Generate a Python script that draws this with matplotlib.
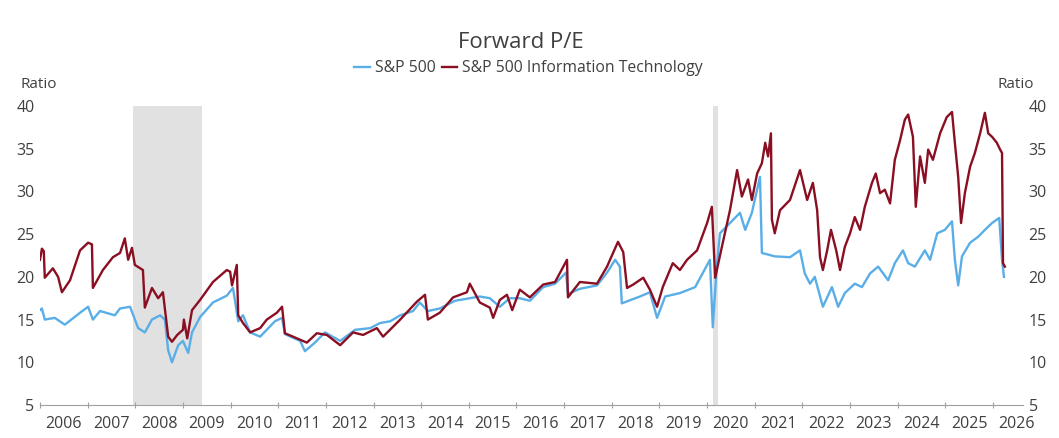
import matplotlib.pyplot as plt
from matplotlib.ticker import FixedLocator, NullFormatter, FixedFormatter

plt.rcParams['font.family'] = ['Open Sans', 'DejaVu Sans']

# S&P 500 forward P/E (decimal year, ratio)
spx_t = [2006.00, 2006.04, 2006.10, 2006.31, 2006.52, 2006.84, 2007.01, 2007.11, 2007.26,
         2007.57, 2007.68, 2007.89, 2008.06, 2008.20, 2008.35, 2008.52, 2008.62, 2008.69,
         2008.77, 2008.90, 2009.00, 2009.11, 2009.19, 2009.36, 2009.63, 2009.92, 2010.05,
         2010.16, 2010.26, 2010.41, 2010.62, 2010.93, 2011.08, 2011.14, 2011.46, 2011.56,
         2011.77, 2011.98, 2012.30, 2012.61, 2012.93, 2013.14, 2013.35, 2013.56, 2013.83,
         2013.97, 2014.14, 2014.39, 2014.71, 2015.02, 2015.23, 2015.44, 2015.65, 2015.86,
         2016.07, 2016.28, 2016.56, 2016.81, 2017.04, 2017.08, 2017.33, 2017.69, 2017.90,
         2018.07, 2018.17, 2018.21, 2018.59, 2018.80, 2018.95, 2019.12, 2019.43, 2019.75,
         2020.06, 2020.12, 2020.20, 2020.27, 2020.48, 2020.69, 2020.80, 2020.94, 2021.11,
         2021.15, 2021.42, 2021.74, 2021.95, 2022.05, 2022.16, 2022.26, 2022.43, 2022.62,
         2022.75, 2022.89, 2023.10, 2023.25, 2023.42, 2023.59, 2023.80, 2023.94, 2024.11,
         2024.22, 2024.36, 2024.57, 2024.68, 2024.83, 2024.99, 2025.14, 2025.20, 2025.27,
         2025.35, 2025.52, 2025.69, 2025.83, 2025.98, 2026.13, 2026.19, 2026.23]
spx_pe = [16.1, 16.3, 15.0, 15.2, 14.4, 15.8, 16.5, 15.0, 16.0,
          15.5, 16.3, 16.5, 14.0, 13.5, 15.0, 15.5, 15.0, 11.4,
          10.0, 12.0, 12.5, 11.1, 13.5, 15.3, 17.0, 17.8, 18.7,
          14.8, 15.5, 13.5, 13.0, 14.8, 15.2, 13.3, 12.5, 11.3,
          12.3, 13.5, 12.5, 13.8, 14.0, 14.6, 14.8, 15.5, 16.0,
          17.0, 16.0, 16.3, 17.2, 17.5, 17.7, 17.5, 16.5, 17.5,
          17.5, 17.2, 18.8, 19.2, 20.5, 18.0, 18.6, 19.0, 20.5,
          22.0, 21.2, 16.9, 17.7, 18.2, 15.2, 17.7, 18.1, 18.8,
          22.0, 14.1, 21.0, 25.1, 26.3, 27.5, 25.5, 27.5, 31.7,
          22.8, 22.4, 22.3, 23.1, 20.4, 19.2, 20.0, 16.5, 18.8,
          16.5, 18.1, 19.2, 18.8, 20.4, 21.2, 19.6, 21.6, 23.1,
          21.6, 21.2, 23.1, 22.0, 25.1, 25.5, 26.5, 22.0, 19.0,
          22.4, 24.0, 24.7, 25.5, 26.3, 26.9, 22.0, 20.0]

# S&P 500 Information Technology forward P/E
tech_t = [2006.00, 2006.04, 2006.08, 2006.10, 2006.27, 2006.38, 2006.46, 2006.63, 2006.84,
          2007.01, 2007.09, 2007.11, 2007.32, 2007.53, 2007.68, 2007.78, 2007.85, 2007.93,
          2007.99, 2008.16, 2008.20, 2008.35, 2008.48, 2008.58, 2008.69, 2008.77, 2008.88,
          2009.00, 2009.02, 2009.09, 2009.19, 2009.36, 2009.63, 2009.92, 2009.99, 2010.03,
          2010.13, 2010.16, 2010.26, 2010.41, 2010.62, 2010.76, 2010.97, 2011.08, 2011.14,
          2011.31, 2011.60, 2011.81, 2012.02, 2012.30, 2012.57, 2012.78, 2013.07, 2013.20,
          2013.56, 2013.91, 2014.08, 2014.14, 2014.39, 2014.67, 2014.96, 2015.02, 2015.23,
          2015.44, 2015.51, 2015.65, 2015.80, 2015.91, 2016.07, 2016.28, 2016.56, 2016.81,
          2017.06, 2017.08, 2017.33, 2017.69, 2017.90, 2018.13, 2018.24, 2018.32, 2018.45,
          2018.66, 2018.80, 2018.95, 2019.07, 2019.28, 2019.43, 2019.58, 2019.79, 2020.00,
          2020.10, 2020.17, 2020.31, 2020.48, 2020.63, 2020.73, 2020.86, 2020.94, 2021.05,
          2021.15, 2021.22, 2021.28, 2021.34, 2021.36, 2021.42, 2021.53, 2021.74, 2021.95,
          2022.10, 2022.22, 2022.31, 2022.37, 2022.43, 2022.52, 2022.60, 2022.71, 2022.79,
          2022.89, 2023.00, 2023.10, 2023.21, 2023.31, 2023.46, 2023.54, 2023.63, 2023.73,
          2023.84, 2023.94, 2024.05, 2024.15, 2024.22, 2024.32, 2024.38, 2024.47, 2024.57,
          2024.64, 2024.74, 2024.89, 2025.03, 2025.14, 2025.20, 2025.27, 2025.33, 2025.41,
          2025.52, 2025.62, 2025.73, 2025.83, 2025.90, 2025.98, 2026.08, 2026.15, 2026.19,
          2026.21, 2026.25]
tech_pe = [22.0, 23.3, 23.0, 19.9, 21.0, 20.0, 18.2, 19.6, 23.1,
           24.0, 23.8, 18.7, 20.8, 22.3, 22.8, 24.5, 22.0, 23.4,
           21.4, 20.8, 16.4, 18.7, 17.5, 18.2, 13.0, 12.4, 13.2,
           13.8, 15.0, 12.8, 16.1, 17.3, 19.4, 20.8, 20.6, 19.0,
           21.4, 15.5, 14.6, 13.5, 14.0, 15.0, 15.8, 16.5, 13.4,
           13.0, 12.3, 13.4, 13.2, 12.0, 13.5, 13.2, 14.0, 13.0,
           15.0, 17.1, 17.9, 15.0, 15.8, 17.6, 18.2, 19.2, 17.0,
           16.4, 15.2, 17.3, 17.9, 16.1, 18.5, 17.6, 19.1, 19.4,
           22.0, 17.6, 19.4, 19.2, 21.2, 24.1, 22.9, 18.7, 19.1,
           19.9, 18.5, 16.5, 18.8, 21.6, 20.8, 22.0, 23.1, 26.3,
           28.2, 19.9, 23.5, 27.8, 32.5, 29.4, 31.4, 29.0, 32.1,
           33.3, 35.7, 34.1, 36.8, 26.7, 25.1, 27.8, 29.0, 32.5,
           29.0, 31.0, 27.8, 22.3, 20.8, 23.1, 25.5, 23.1, 20.8,
           23.5, 25.1, 27.0, 25.5, 28.2, 31.0, 32.1, 29.8, 30.2,
           28.6, 33.7, 36.0, 38.4, 39.0, 36.4, 28.2, 34.1, 31.0,
           34.9, 33.7, 36.8, 38.7, 39.3, 35.7, 31.7, 26.3, 29.8,
           32.9, 34.5, 36.8, 39.2, 36.8, 36.4, 35.7, 34.9, 34.5,
           21.6, 21.2]

# recession periods
recessions = [(2007.95, 2009.40), (2020.12, 2020.23)]
years = list(range(2006, 2027))

text_col = '#404040'
fig = plt.figure(figsize=(10.59, 4.38), dpi=100)
ax = fig.add_axes([40/1059, 1-405/438, (1023-40)/1059, (405-106)/438])

for start, end in recessions:
    ax.axvspan(start, end, color='#e1e1e1', lw=0, zorder=0)

ax.plot(spx_t, spx_pe, color='#5aaee8', lw=1.7, label='S&P 500', zorder=2)
ax.plot(tech_t, tech_pe, color='#8a0f22', lw=1.7, label='S&P 500 Information Technology', zorder=3)

ax.set_xlim(2006, 2026.63)
ax.set_ylim(5, 40)
ax.set_yticks([5, 10, 15, 20, 25, 30, 35, 40])

# year ticks on the boundaries, labels centred in each year
ax.xaxis.set_major_locator(FixedLocator(years))
ax.xaxis.set_major_formatter(NullFormatter())
ax.xaxis.set_minor_locator(FixedLocator([y + 0.5 for y in years]))
ax.xaxis.set_minor_formatter(FixedFormatter([str(y) for y in years]))
ax.tick_params(axis='x', which='major', length=5, direction='inout', color='#a0a0a0')
ax.tick_params(axis='x', which='minor', length=0, pad=8, labelsize=11.5, labelcolor=text_col)
ax.tick_params(axis='y', length=0, labelsize=11.5, labelcolor=text_col,
               labelleft=True, labelright=True, pad=4)

for side in ['top', 'left', 'right']:
    ax.spines[side].set_visible(False)
ax.spines['bottom'].set_color('#a0a0a0')

fig.text(0.492, 1-42/438, 'Forward P/E', ha='center', va='center', fontsize=16, color=text_col)
fig.legend(loc='center', bbox_to_anchor=(0.499, 1-68/438), ncol=2, frameon=False,
           fontsize=11.3, handlelength=1.0, handletextpad=0.3, columnspacing=0.4,
           labelcolor=text_col)
fig.text(20/1059, 1-84/438, 'Ratio', ha='left', va='center', fontsize=11, color=text_col)
fig.text(1034/1059, 1-84/438, 'Ratio', ha='right', va='center', fontsize=11, color=text_col)

fig.savefig('out.png', dpi=100)
